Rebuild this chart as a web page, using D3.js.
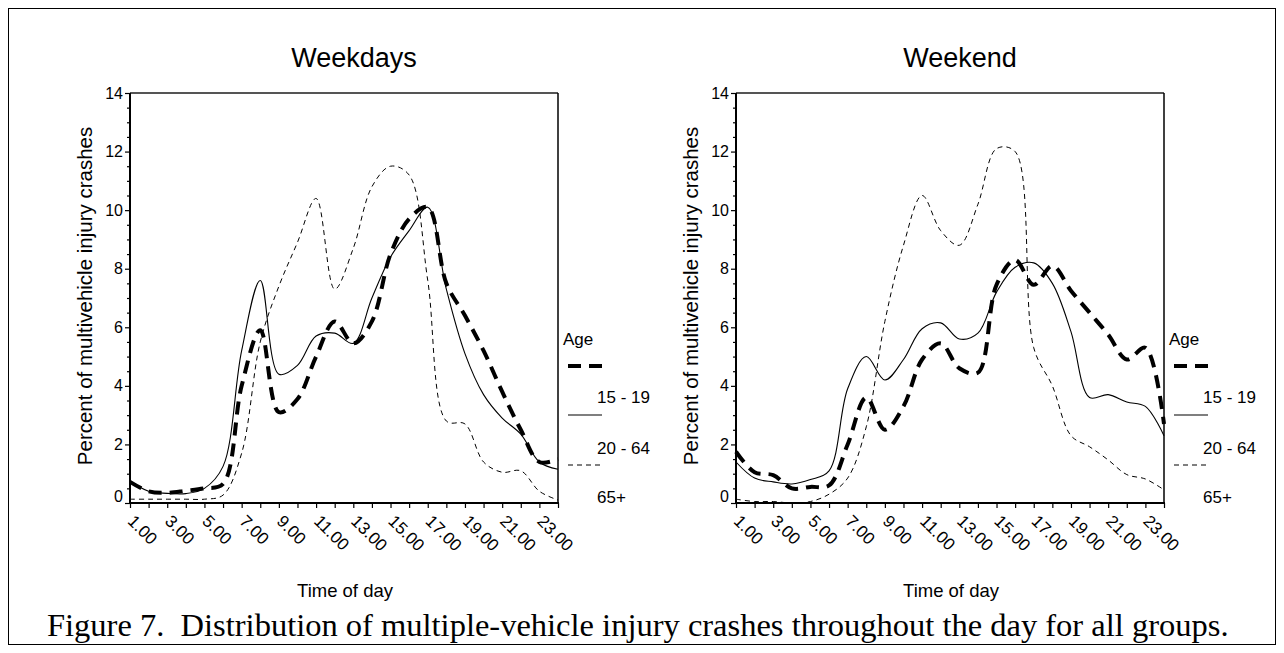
<!DOCTYPE html>
<meta charset="utf-8">
<style>
body { margin: 0; background: #fff; }
svg { font-family: Arial, "Liberation Sans", sans-serif; }
.title { font-size: 27px; text-anchor: middle; }
.axis-title { font-size: 18.5px; text-anchor: middle; }
.ytitle { font-size: 20.5px; text-anchor: middle; }
.tick-label { font-size: 16px; }
.xtick-label { font-size: 17px; }
.legend text { font-size: 17px; }
.caption { font-family: "Liberation Serif", "Times New Roman", serif; font-size: 32.5px; white-space: pre; }
</style>
<body>
<svg width="1284" height="653"></svg>
<script src="https://cdn.jsdelivr.net/npm/d3@7"></script>
<script>

// hour of day (1 = 1.00 ... 24)
let hours = [1, 2, 3, 4, 5, 6, 7, 8, 9, 10, 11, 12, 13, 14, 15, 16, 17, 18, 19, 20, 21, 22, 23, 24];
let tickHours = [1, 3, 5, 7, 9, 11, 13, 15, 17, 19, 21, 23];
let tickLabels = ['1.00', '3.00', '5.00', '7.00', '9.00', '11.00', '13.00', '15.00', '17.00', '19.00', '21.00', '23.00'];
let yTicks = [0, 2, 4, 6, 8, 10, 12, 14];
let ageGroups = ['15 - 19', '20 - 64', '65+'];

// percent of multivehicle injury crashes
let weekday15_19 = [0.72, 0.4, 0.35, 0.42, 0.5, 0.65, 4.0, 5.9, 3.1, 3.55, 5.0, 6.2, 5.45, 6.2, 8.5, 9.7, 10.1, 7.5, 6.4, 5.2, 3.8, 2.5, 1.4, 1.5];
let weekday20_64 = [0.75, 0.4, 0.33, 0.32, 0.5, 1.25, 5.2, 7.6, 4.4, 4.7, 5.7, 5.8, 5.45, 7.0, 8.4, 9.3, 10.1, 7.3, 5.1, 3.7, 2.9, 2.35, 1.4, 1.15];
let weekday65 = [0.13, 0.13, 0.13, 0.13, 0.13, 0.27, 1.7, 5.5, 7.4, 8.9, 10.4, 7.3, 8.7, 10.8, 11.5, 11.2, 7.6, 2.8, 2.7, 1.4, 1.05, 1.1, 0.4, 0.1];

let weekend15_19 = [1.75, 1.05, 0.95, 0.5, 0.55, 0.6, 2.0, 3.6, 2.5, 3.3, 4.9, 5.45, 4.6, 4.45, 7.45, 8.3, 7.45, 8.1, 7.25, 6.5, 5.75, 4.9, 5.3, 2.7];
let weekend20_64 = [1.4, 0.85, 0.72, 0.65, 0.8, 1.1, 3.9, 5.0, 4.2, 4.9, 5.95, 6.15, 5.6, 5.8, 7.2, 8.05, 8.2, 7.5, 5.85, 3.6, 3.7, 3.45, 3.3, 2.3];
let weekend65 = [0.13, 0.05, 0.05, 0.0, 0.05, 0.3, 0.85, 2.6, 6.2, 8.8, 10.5, 9.3, 8.8, 10.2, 12.1, 12.0, 5.3, 4.0, 2.3, 1.92, 1.47, 0.97, 0.82, 0.45];

let lineStyles = [
  { width: 4, dash: '13,8' },   // 15 - 19
  { width: 1.1, dash: null },   // 20 - 64
  { width: 1, dash: '5,4' }     // 65+
];

let svg = d3.select('svg');

// outer frame
svg.append('rect')
  .attr('x', 8.5).attr('y', 8.5)
  .attr('width', 1267).attr('height', 636)
  .attr('fill', 'none').attr('stroke', '#000').attr('stroke-width', 1);

function drawPanel(title, series, left, right) {
  let top = 93, bottom = 503;
  let x = d3.scaleLinear().domain([1, 24]).range([left, right]);
  let y = d3.scaleLinear().domain([0, 14]).range([bottom, top]);
  let g = svg.append('g');

  // title
  g.append('text').attr('class', 'title')
    .attr('x', (left + right) / 2 + 10).attr('y', 67)
    .text(title);

  // frame top + right
  g.append('line').attr('x1', left).attr('x2', right).attr('y1', top).attr('y2', top)
    .attr('stroke', '#555').attr('stroke-width', 2);
  g.append('line').attr('x1', right).attr('x2', right).attr('y1', top).attr('y2', bottom)
    .attr('stroke', '#000').attr('stroke-width', 1.5);

  // y axis
  let yAxis = g.append('g').attr('transform', 'translate(' + left + ',0)')
    .call(d3.axisLeft(y).tickValues(d3.range(0, 14.01, 0.5)).tickSize(3).tickFormat(''));
  yAxis.select('.domain').remove();
  yAxis.selectAll('.tick line').filter(d => d % 2 === 0).attr('x2', -5);
  yAxis.selectAll('.tick line').attr('stroke-width', 1.2);
  g.append('line').attr('x1', left).attr('x2', left).attr('y1', top).attr('y2', bottom + 1)
    .attr('stroke', '#000').attr('stroke-width', 2);

  g.selectAll('.ylab').data(yTicks).enter().append('text')
    .attr('class', 'tick-label')
    .attr('x', left - 7)
    .attr('y', d => y(d) - (d === 0 ? 7 : 0))
    .attr('dy', '0.35em')
    .attr('text-anchor', 'end')
    .text(d => d);

  // x axis
  let xAxis = g.append('g').attr('transform', 'translate(0,' + bottom + ')')
    .call(d3.axisBottom(x).tickValues(hours).tickSize(5).tickFormat(''));
  xAxis.select('.domain').remove();
  xAxis.selectAll('.tick line').attr('stroke-width', 1.2);
  g.append('line').attr('x1', left - 1).attr('x2', right + 1).attr('y1', bottom).attr('y2', bottom)
    .attr('stroke', '#000').attr('stroke-width', 2);

  g.selectAll('.xlab').data(tickHours).enter().append('text')
    .attr('class', 'xtick-label')
    .attr('transform', d => 'translate(' + (x(d) + 1) + ',' + (bottom + 15) + ') rotate(45)')
    .attr('dy', '0.35em')
    .text((d, i) => tickLabels[i]);

  // axis titles
  g.append('text').attr('class', 'ytitle')
    .attr('transform', 'translate(' + (left - 38) + ',' + ((top + bottom) / 2 - 2) + ') rotate(-90)')
    .text('Percent of multivehicle injury crashes');
  g.append('text').attr('class', 'axis-title')
    .attr('x', (left + right) / 2 + 1).attr('y', 597)
    .text('Time of day');

  // lines
  let line = d3.line()
    .x((d, i) => x(hours[i]))
    .y(d => y(d))
    .curve(d3.curveCatmullRom);

  series.forEach(function(s, k) {
    g.append('path')
      .datum(s)
      .attr('d', line)
      .attr('fill', 'none')
      .attr('stroke', '#000')
      .attr('stroke-width', lineStyles[k].width)
      .attr('stroke-dasharray', lineStyles[k].dash);
  });

  // legend
  let lg = g.append('g').attr('class', 'legend').attr('transform', 'translate(' + right + ',0)');
  lg.append('text').attr('x', 5).attr('y', 345).text('Age');
  let lineY = [366, 415, 465];
  let textY = [403, 454, 503];
  ageGroups.forEach(function(a, k) {
    lg.append('line')
      .attr('x1', 10).attr('x2', 44).attr('y1', lineY[k]).attr('y2', lineY[k])
      .attr('stroke', '#000')
      .attr('stroke-width', lineStyles[k].width)
      .attr('stroke-dasharray', lineStyles[k].dash);
    lg.append('text').attr('x', 39).attr('y', textY[k]).text(a);
  });
}

drawPanel('Weekdays', [weekday15_19, weekday20_64, weekday65], 130, 558);
drawPanel('Weekend', [weekend15_19, weekend20_64, weekend65], 736, 1164);

svg.append('text').attr('class', 'caption')
  .attr('x', 47).attr('y', 636)
  .text('Figure 7.  Distribution of multiple-vehicle injury crashes throughout the day for all groups.');

</script>
</body>
